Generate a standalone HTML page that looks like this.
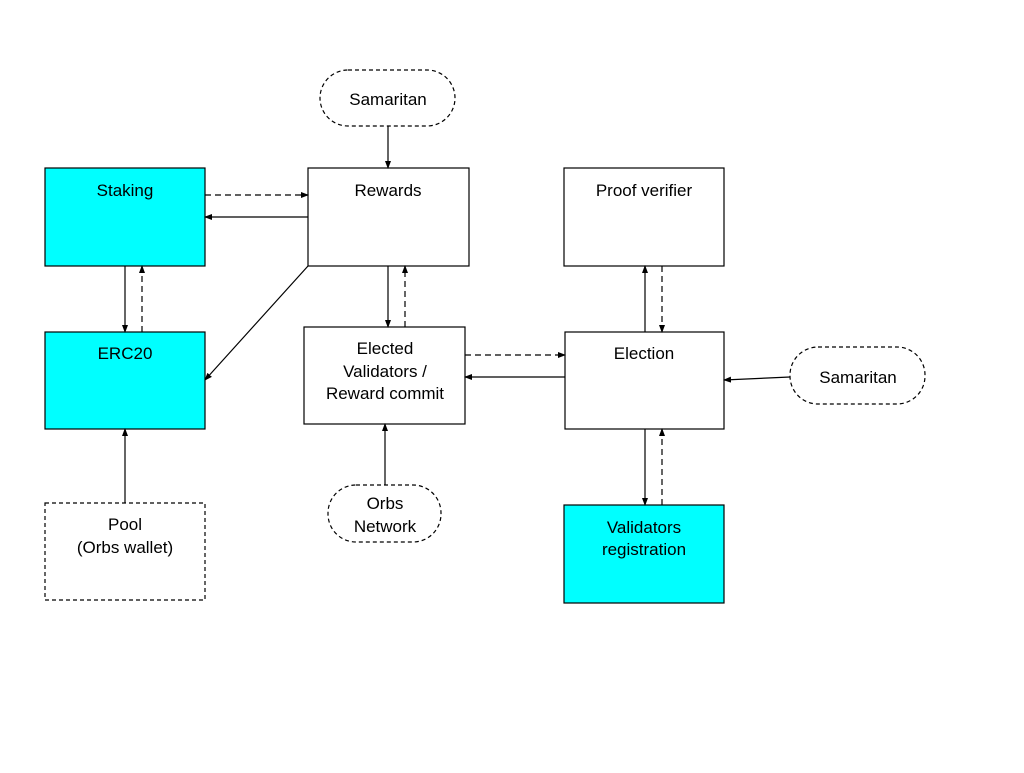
<!DOCTYPE html>
<html><head><meta charset="utf-8"><style>html,body{margin:0;padding:0;background:#fff}</style></head><body>
<svg width="1024" height="768" xmlns="http://www.w3.org/2000/svg" font-family="Liberation Sans, Arial, sans-serif" font-size="17">
<defs>
<marker id="a" markerWidth="8" markerHeight="6" refX="7" refY="3" orient="auto" markerUnits="userSpaceOnUse"><path d="M0,0 L8,3 L0,6 z" fill="#000"/></marker>
</defs>
<rect width="1024" height="768" fill="#fff"/>
<g stroke="#000" stroke-width="1.2">
<rect x="45" y="168" width="160" height="98" fill="#00ffff"/>
<rect x="45" y="332" width="160" height="97" fill="#00ffff"/>
<rect x="45" y="503" width="160" height="97" fill="#fff" stroke-dasharray="4,3"/>
<rect x="308" y="168" width="161" height="98" fill="#fff"/>
<rect x="304" y="327" width="161" height="97" fill="#fff"/>
<rect x="564" y="168" width="160" height="98" fill="#fff"/>
<rect x="565" y="332" width="159" height="97" fill="#fff"/>
<rect x="564" y="505" width="160" height="98" fill="#00ffff"/>
<rect x="320" y="70" width="135" height="56" rx="28" fill="#fff" stroke-dasharray="4,3"/>
<rect x="790" y="347" width="135" height="57" rx="28" fill="#fff" stroke-dasharray="4,3"/>
<rect x="328" y="485" width="113" height="57" rx="28" fill="#fff" stroke-dasharray="4,3"/>
</g>
<g stroke="#000" stroke-width="1.2" fill="none" marker-end="url(#a)">
<line x1="388" y1="126" x2="388" y2="168"/>
<line x1="205" y1="195" x2="308" y2="195" stroke-dasharray="6,4"/>
<line x1="308" y1="217" x2="205" y2="217"/>
<line x1="308" y1="266" x2="205" y2="380"/>
<line x1="125" y1="266" x2="125" y2="332"/>
<line x1="142" y1="332" x2="142" y2="266" stroke-dasharray="6,4"/>
<line x1="125" y1="503" x2="125" y2="429"/>
<line x1="388" y1="266" x2="388" y2="327"/>
<line x1="405" y1="327" x2="405" y2="266" stroke-dasharray="6,4"/>
<line x1="465" y1="355" x2="565" y2="355" stroke-dasharray="6,4"/>
<line x1="565" y1="377" x2="465" y2="377"/>
<line x1="385" y1="485" x2="385" y2="424"/>
<line x1="645" y1="332" x2="645" y2="266"/>
<line x1="662" y1="266" x2="662" y2="332" stroke-dasharray="6,4"/>
<line x1="645" y1="429" x2="645" y2="505"/>
<line x1="662" y1="505" x2="662" y2="429" stroke-dasharray="6,4"/>
<line x1="790" y1="377" x2="724" y2="380"/>
</g>
<g fill="#000" text-anchor="middle">
<text x="125" y="196">Staking</text>
<text x="125" y="359">ERC20</text>
<text x="125" y="530">Pool</text>
<text x="125" y="553">(Orbs wallet)</text>
<text x="388" y="196">Rewards</text>
<text x="385" y="354">Elected</text>
<text x="385" y="377">Validators /</text>
<text x="385" y="399">Reward commit</text>
<text x="644" y="196">Proof verifier</text>
<text x="644" y="359">Election</text>
<text x="644" y="533">Validators</text>
<text x="644" y="555">registration</text>
<text x="388" y="105">Samaritan</text>
<text x="858" y="383">Samaritan</text>
<text x="385" y="509">Orbs</text>
<text x="385" y="532">Network</text>
</g>
</svg>
</body></html>
